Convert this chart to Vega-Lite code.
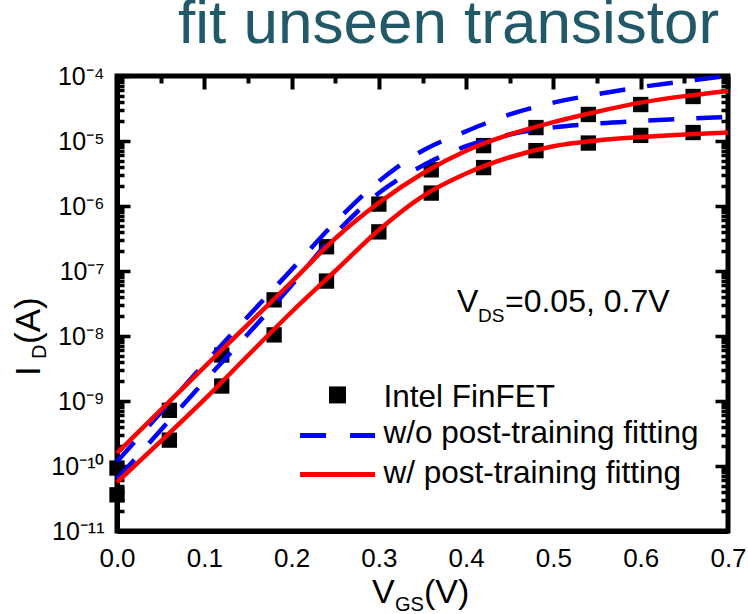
{
  "$schema": "https://vega.github.io/schema/vega-lite/v6.json",
  "autosize": {"type": "none"},
  "width": 611,
  "height": 455,
  "padding": {"left": 117, "top": 76, "right": 20, "bottom": 83},
  "title": {
    "text": "fit unseen transistor",
    "anchor": "start",
    "frame": "group",
    "dx": 61,
    "offset": 8,
    "font": "Liberation Sans",
    "fontSize": 62,
    "fontWeight": "normal",
    "color": "#215968"
  },
  "config": {
    "view": {"stroke": "black", "strokeWidth": 5}
  },
  "datasets": {
    "finfet": [
      {"vgs": 0.00, "id": 9.3e-11, "vds": 0.7}, {"vgs": 0.06, "id": 7.2e-10, "vds": 0.7},
      {"vgs": 0.12, "id": 5.1e-9, "vds": 0.7}, {"vgs": 0.18, "id": 3.6e-8, "vds": 0.7},
      {"vgs": 0.24, "id": 2.36e-7, "vds": 0.7}, {"vgs": 0.30, "id": 1.07e-6, "vds": 0.7},
      {"vgs": 0.36, "id": 3.6e-6, "vds": 0.7}, {"vgs": 0.42, "id": 8.5e-6, "vds": 0.7},
      {"vgs": 0.48, "id": 1.61e-5, "vds": 0.7}, {"vgs": 0.54, "id": 2.56e-5, "vds": 0.7},
      {"vgs": 0.60, "id": 3.64e-5, "vds": 0.7}, {"vgs": 0.66, "id": 4.84e-5, "vds": 0.7},
      {"vgs": 0.00, "id": 3.6e-11, "vds": 0.05}, {"vgs": 0.06, "id": 2.5e-10, "vds": 0.05},
      {"vgs": 0.12, "id": 1.7e-9, "vds": 0.05}, {"vgs": 0.18, "id": 1.04e-8, "vds": 0.05},
      {"vgs": 0.24, "id": 7.0e-8, "vds": 0.05}, {"vgs": 0.30, "id": 4.0e-7, "vds": 0.05},
      {"vgs": 0.36, "id": 1.58e-6, "vds": 0.05}, {"vgs": 0.42, "id": 3.9e-6, "vds": 0.05},
      {"vgs": 0.48, "id": 7.1e-6, "vds": 0.05}, {"vgs": 0.54, "id": 9.3e-6, "vds": 0.05},
      {"vgs": 0.60, "id": 1.22e-5, "vds": 0.05}, {"vgs": 0.66, "id": 1.35e-5, "vds": 0.05}
    ],
    "without_fit": [
      {"vgs": 0.00, "id": 1.17e-10, "vds": 0.7}, {"vgs": 0.05, "id": 6.61e-10, "vds": 0.7},
      {"vgs": 0.10, "id": 3.72e-9, "vds": 0.7}, {"vgs": 0.15, "id": 2.00e-8, "vds": 0.7},
      {"vgs": 0.20, "id": 1.05e-7, "vds": 0.7}, {"vgs": 0.25, "id": 5.62e-7, "vds": 0.7},
      {"vgs": 0.30, "id": 2.40e-6, "vds": 0.7}, {"vgs": 0.35, "id": 7.08e-6, "vds": 0.7},
      {"vgs": 0.40, "id": 1.41e-5, "vds": 0.7}, {"vgs": 0.45, "id": 2.57e-5, "vds": 0.7},
      {"vgs": 0.50, "id": 3.89e-5, "vds": 0.7}, {"vgs": 0.55, "id": 5.25e-5, "vds": 0.7},
      {"vgs": 0.60, "id": 6.76e-5, "vds": 0.7}, {"vgs": 0.65, "id": 8.32e-5, "vds": 0.7},
      {"vgs": 0.70, "id": 1.00e-4, "vds": 0.7},
      {"vgs": 0.00, "id": 6.31e-11, "vds": 0.05}, {"vgs": 0.05, "id": 3.55e-10, "vds": 0.05},
      {"vgs": 0.10, "id": 2.00e-9, "vds": 0.05}, {"vgs": 0.15, "id": 1.07e-8, "vds": 0.05},
      {"vgs": 0.20, "id": 6.03e-8, "vds": 0.05}, {"vgs": 0.25, "id": 3.72e-7, "vds": 0.05},
      {"vgs": 0.30, "id": 1.58e-6, "vds": 0.05}, {"vgs": 0.35, "id": 4.17e-6, "vds": 0.05},
      {"vgs": 0.40, "id": 8.32e-6, "vds": 0.05}, {"vgs": 0.45, "id": 1.26e-5, "vds": 0.05},
      {"vgs": 0.50, "id": 1.62e-5, "vds": 0.05}, {"vgs": 0.55, "id": 1.86e-5, "vds": 0.05},
      {"vgs": 0.60, "id": 2.04e-5, "vds": 0.05}, {"vgs": 0.65, "id": 2.19e-5, "vds": 0.05},
      {"vgs": 0.70, "id": 2.34e-5, "vds": 0.05}
    ],
    "with_fit": [
      {"vgs": 0.00, "id": 1.58e-10, "vds": 0.7}, {"vgs": 0.05, "id": 7.24e-10, "vds": 0.7},
      {"vgs": 0.10, "id": 3.31e-9, "vds": 0.7}, {"vgs": 0.15, "id": 1.51e-8, "vds": 0.7},
      {"vgs": 0.20, "id": 6.76e-8, "vds": 0.7}, {"vgs": 0.25, "id": 3.16e-7, "vds": 0.7},
      {"vgs": 0.30, "id": 1.12e-6, "vds": 0.7}, {"vgs": 0.35, "id": 3.16e-6, "vds": 0.7},
      {"vgs": 0.40, "id": 7.08e-6, "vds": 0.7}, {"vgs": 0.45, "id": 1.26e-5, "vds": 0.7},
      {"vgs": 0.50, "id": 1.95e-5, "vds": 0.7}, {"vgs": 0.55, "id": 2.82e-5, "vds": 0.7},
      {"vgs": 0.60, "id": 3.89e-5, "vds": 0.7}, {"vgs": 0.65, "id": 4.90e-5, "vds": 0.7},
      {"vgs": 0.70, "id": 5.89e-5, "vds": 0.7},
      {"vgs": 0.00, "id": 5.62e-11, "vds": 0.05}, {"vgs": 0.05, "id": 2.40e-10, "vds": 0.05},
      {"vgs": 0.10, "id": 1.05e-9, "vds": 0.05}, {"vgs": 0.15, "id": 5.01e-9, "vds": 0.05},
      {"vgs": 0.20, "id": 2.34e-8, "vds": 0.05}, {"vgs": 0.25, "id": 1.00e-7, "vds": 0.05},
      {"vgs": 0.30, "id": 4.27e-7, "vds": 0.05}, {"vgs": 0.35, "id": 1.41e-6, "vds": 0.05},
      {"vgs": 0.40, "id": 3.16e-6, "vds": 0.05}, {"vgs": 0.45, "id": 5.62e-6, "vds": 0.05},
      {"vgs": 0.50, "id": 8.32e-6, "vds": 0.05}, {"vgs": 0.55, "id": 1.02e-5, "vds": 0.05},
      {"vgs": 0.60, "id": 1.15e-5, "vds": 0.05}, {"vgs": 0.65, "id": 1.26e-5, "vds": 0.05},
      {"vgs": 0.70, "id": 1.35e-5, "vds": 0.05}
    ],
    "one": [{}]
  },
  "layer": [
    {
      "data": {"name": "finfet"},
      "mark": {"type": "point", "shape": "square", "filled": true, "color": "black", "size": 235, "opacity": 1},
      "encoding": {
        "x": {
          "field": "vgs", "type": "quantitative", "title": null,
          "scale": {"domain": [0, 0.7], "nice": false, "zero": false},
          "axis": {
            "orient": "bottom", "title": null,
            "values": [0, 0.05, 0.1, 0.15, 0.2, 0.25, 0.3, 0.35, 0.4, 0.45, 0.5, 0.55, 0.6, 0.65, 0.7],
            "domainColor": "black", "domainWidth": 5,
            "ticks": false,
            "grid": true, "gridColor": "black", "gridOpacity": 1, "gridWidth": 4, "gridCap": "butt",
            "gridDash": {"condition": {"test": "abs(datum.value*10 - round(datum.value*10)) < 0.001", "value": [13, 2000]}, "value": [7, 2000]},
            "labelExpr": "abs(datum.value*10 - round(datum.value*10)) < 0.001 ? format(datum.value, '.1f') : ''",
            "labelFont": "Liberation Sans", "labelFontSize": 26, "labelColor": "black",
            "labelPadding": 14, "labelFlush": false, "labelOverlap": false, "labelBound": false
          }
        },
        "y": {
          "field": "id", "type": "quantitative", "title": null,
          "scale": {"type": "log", "domain": [1e-11, 1e-4], "nice": false},
          "axis": {
            "orient": "left", "title": null,
            "values": [1e-11, 2e-11, 3e-11, 4e-11, 5e-11, 6e-11, 7e-11, 8e-11, 9e-11,
                       1e-10, 2e-10, 3e-10, 4e-10, 5e-10, 6e-10, 7e-10, 8e-10, 9e-10,
                       1e-9, 2e-9, 3e-9, 4e-9, 5e-9, 6e-9, 7e-9, 8e-9, 9e-9,
                       1e-8, 2e-8, 3e-8, 4e-8, 5e-8, 6e-8, 7e-8, 8e-8, 9e-8,
                       1e-7, 2e-7, 3e-7, 4e-7, 5e-7, 6e-7, 7e-7, 8e-7, 9e-7,
                       1e-6, 2e-6, 3e-6, 4e-6, 5e-6, 6e-6, 7e-6, 8e-6, 9e-6,
                       1e-5, 2e-5, 3e-5, 4e-5, 5e-5, 6e-5, 7e-5, 8e-5, 9e-5, 1e-4],
            "domainColor": "black", "domainWidth": 5,
            "ticks": false,
            "grid": true, "gridColor": "black", "gridOpacity": 1, "gridWidth": 3.5, "gridCap": "butt",
            "gridDash": {"condition": {"test": "abs(log(datum.value)/LN10 - round(log(datum.value)/LN10)) < 0.001", "value": [13, 585, 13, 100]}, "value": [7, 597, 7, 100]},
            "labelExpr": "abs(log(datum.value)/LN10 - round(log(datum.value)/LN10)) < 0.001 ? '10' + ['⁰','⁻¹','⁻²','⁻³','⁻⁴','⁻⁵','⁻⁶','⁻⁷','⁻⁸','⁻⁹','⁻¹⁰','⁻¹¹'][-round(log(datum.value)/LN10)] : ''",
            "labelFont": "Liberation Sans", "labelFontSize": 25, "labelColor": "black",
            "labelPadding": 13, "labelFlush": false, "labelOverlap": false, "labelBound": false
          }
        }
      }
    },
    {
      "data": {"name": "without_fit"},
      "mark": {"type": "line", "color": "#0000FF", "strokeWidth": 4.5, "strokeDash": [26, 22], "strokeCap": "butt", "interpolate": "monotone"},
      "encoding": {
        "x": {"field": "vgs", "type": "quantitative", "title": null, "scale": {"domain": [0, 0.7], "nice": false, "zero": false}},
        "y": {"field": "id", "type": "quantitative", "title": null, "scale": {"type": "log", "domain": [1e-11, 1e-4], "nice": false}},
        "detail": {"field": "vds", "type": "nominal"}
      }
    },
    {
      "data": {"name": "with_fit"},
      "mark": {"type": "line", "color": "#FF0000", "strokeWidth": 4.5, "interpolate": "monotone"},
      "encoding": {
        "x": {"field": "vgs", "type": "quantitative", "title": null, "scale": {"domain": [0, 0.7], "nice": false, "zero": false}},
        "y": {"field": "id", "type": "quantitative", "title": null, "scale": {"type": "log", "domain": [1e-11, 1e-4], "nice": false}},
        "detail": {"field": "vds", "type": "nominal"}
      }
    },
    {
      "data": {"name": "one"},
      "mark": {"type": "point", "shape": "square", "filled": true, "color": "black", "size": 289, "opacity": 1},
      "encoding": {
        "x": {"datum": 0.2526, "type": "quantitative", "title": null, "scale": {"domain": [0, 0.7], "nice": false, "zero": false}},
        "y": {"datum": 1.24e-9, "type": "quantitative", "title": null, "scale": {"type": "log", "domain": [1e-11, 1e-4], "nice": false}}
      }
    },
    {
      "data": {"name": "one"},
      "mark": {"type": "rule", "color": "#0000FF", "strokeWidth": 5, "strokeDash": [26, 24], "strokeCap": "butt"},
      "encoding": {
        "x": {"datum": 0.2097, "type": "quantitative", "title": null, "scale": {"domain": [0, 0.7], "nice": false, "zero": false}},
        "x2": {"datum": 0.2956},
        "y": {"datum": 2.94e-10, "type": "quantitative", "title": null, "scale": {"type": "log", "domain": [1e-11, 1e-4], "nice": false}}
      }
    },
    {
      "data": {"name": "one"},
      "mark": {"type": "rule", "color": "#FF0000", "strokeWidth": 5, "strokeCap": "butt"},
      "encoding": {
        "x": {"datum": 0.2097, "type": "quantitative", "title": null, "scale": {"domain": [0, 0.7], "nice": false, "zero": false}},
        "x2": {"datum": 0.2956},
        "y": {"datum": 7.40e-11, "type": "quantitative", "title": null, "scale": {"type": "log", "domain": [1e-11, 1e-4], "nice": false}}
      }
    },
    {
      "data": {"name": "one"},
      "mark": {"type": "text", "text": "Intel FinFET", "align": "left", "baseline": "alphabetic", "font": "Liberation Sans", "fontSize": 31.5, "color": "black"},
      "encoding": {
        "x": {"datum": 0.3053, "type": "quantitative", "title": null, "scale": {"domain": [0, 0.7], "nice": false, "zero": false}},
        "y": {"datum": 8.09e-10, "type": "quantitative", "title": null, "scale": {"type": "log", "domain": [1e-11, 1e-4], "nice": false}}
      }
    },
    {
      "data": {"name": "one"},
      "mark": {"type": "text", "text": "w/o post-training fitting", "align": "left", "baseline": "alphabetic", "font": "Liberation Sans", "fontSize": 31.5, "color": "black"},
      "encoding": {
        "x": {"datum": 0.3053, "type": "quantitative", "title": null, "scale": {"domain": [0, 0.7], "nice": false, "zero": false}},
        "y": {"datum": 2.26e-10, "type": "quantitative", "title": null, "scale": {"type": "log", "domain": [1e-11, 1e-4], "nice": false}}
      }
    },
    {
      "data": {"name": "one"},
      "mark": {"type": "text", "text": "w/ post-training fitting", "align": "left", "baseline": "alphabetic", "font": "Liberation Sans", "fontSize": 31.5, "color": "black"},
      "encoding": {
        "x": {"datum": 0.3053, "type": "quantitative", "title": null, "scale": {"domain": [0, 0.7], "nice": false, "zero": false}},
        "y": {"datum": 5.53e-11, "type": "quantitative", "title": null, "scale": {"type": "log", "domain": [1e-11, 1e-4], "nice": false}}
      }
    },
    {
      "data": {"name": "one"},
      "mark": {"type": "text", "text": "V", "align": "left", "baseline": "alphabetic", "font": "Liberation Sans", "fontSize": 32, "color": "black"},
      "encoding": {
        "x": {"datum": 0.3895, "type": "quantitative", "title": null, "scale": {"domain": [0, 0.7], "nice": false, "zero": false}},
        "y": {"datum": 2.34e-8, "type": "quantitative", "title": null, "scale": {"type": "log", "domain": [1e-11, 1e-4], "nice": false}}
      }
    },
    {
      "data": {"name": "one"},
      "mark": {"type": "text", "text": "DS", "align": "left", "baseline": "alphabetic", "font": "Liberation Sans", "fontSize": 19, "color": "black"},
      "encoding": {
        "x": {"datum": 0.4136, "type": "quantitative", "title": null, "scale": {"domain": [0, 0.7], "nice": false, "zero": false}},
        "y": {"datum": 1.64e-8, "type": "quantitative", "title": null, "scale": {"type": "log", "domain": [1e-11, 1e-4], "nice": false}}
      }
    },
    {
      "data": {"name": "one"},
      "mark": {"type": "text", "text": "=0.05, 0.7V", "align": "left", "baseline": "alphabetic", "font": "Liberation Sans", "fontSize": 32, "color": "black"},
      "encoding": {
        "x": {"datum": 0.4445, "type": "quantitative", "title": null, "scale": {"domain": [0, 0.7], "nice": false, "zero": false}},
        "y": {"datum": 2.34e-8, "type": "quantitative", "title": null, "scale": {"type": "log", "domain": [1e-11, 1e-4], "nice": false}}
      }
    },
    {
      "data": {"name": "one"},
      "mark": {"type": "text", "text": "V", "align": "left", "baseline": "alphabetic", "font": "Liberation Sans", "fontSize": 34, "color": "black"},
      "encoding": {
        "x": {"datum": 0.2921, "type": "quantitative", "title": null, "scale": {"domain": [0, 0.7], "nice": false, "zero": false}},
        "y": {"datum": 7.8e-13, "type": "quantitative", "title": null, "scale": {"type": "log", "domain": [1e-11, 1e-4], "nice": false}}
      }
    },
    {
      "data": {"name": "one"},
      "mark": {"type": "text", "text": "GS", "align": "left", "baseline": "alphabetic", "font": "Liberation Sans", "fontSize": 20, "color": "black"},
      "encoding": {
        "x": {"datum": 0.3185, "type": "quantitative", "title": null, "scale": {"domain": [0, 0.7], "nice": false, "zero": false}},
        "y": {"datum": 5.87e-13, "type": "quantitative", "title": null, "scale": {"type": "log", "domain": [1e-11, 1e-4], "nice": false}}
      }
    },
    {
      "data": {"name": "one"},
      "mark": {"type": "text", "text": "(V)", "align": "left", "baseline": "alphabetic", "font": "Liberation Sans", "fontSize": 34, "color": "black"},
      "encoding": {
        "x": {"datum": 0.3517, "type": "quantitative", "title": null, "scale": {"domain": [0, 0.7], "nice": false, "zero": false}},
        "y": {"datum": 7.8e-13, "type": "quantitative", "title": null, "scale": {"type": "log", "domain": [1e-11, 1e-4], "nice": false}}
      }
    },
    {
      "data": {"name": "one"},
      "mark": {"type": "text", "text": "I", "angle": 270, "align": "left", "baseline": "alphabetic", "font": "Liberation Sans", "fontSize": 35, "color": "black"},
      "encoding": {
        "x": {"datum": -0.0882, "type": "quantitative", "title": null, "scale": {"domain": [0, 0.7], "nice": false, "zero": false}},
        "y": {"datum": 2.43e-9, "type": "quantitative", "title": null, "scale": {"type": "log", "domain": [1e-11, 1e-4], "nice": false}}
      }
    },
    {
      "data": {"name": "one"},
      "mark": {"type": "text", "text": "D", "angle": 270, "align": "left", "baseline": "alphabetic", "font": "Liberation Sans", "fontSize": 20, "color": "black"},
      "encoding": {
        "x": {"datum": -0.0813, "type": "quantitative", "title": null, "scale": {"domain": [0, 0.7], "nice": false, "zero": false}},
        "y": {"datum": 4.43e-9, "type": "quantitative", "title": null, "scale": {"type": "log", "domain": [1e-11, 1e-4], "nice": false}}
      }
    },
    {
      "data": {"name": "one"},
      "mark": {"type": "text", "text": "(A)", "angle": 270, "align": "left", "baseline": "alphabetic", "font": "Liberation Sans", "fontSize": 35, "color": "black"},
      "encoding": {
        "x": {"datum": -0.0882, "type": "quantitative", "title": null, "scale": {"domain": [0, 0.7], "nice": false, "zero": false}},
        "y": {"datum": 7.53e-9, "type": "quantitative", "title": null, "scale": {"type": "log", "domain": [1e-11, 1e-4], "nice": false}}
      }
    }
  ]
}
